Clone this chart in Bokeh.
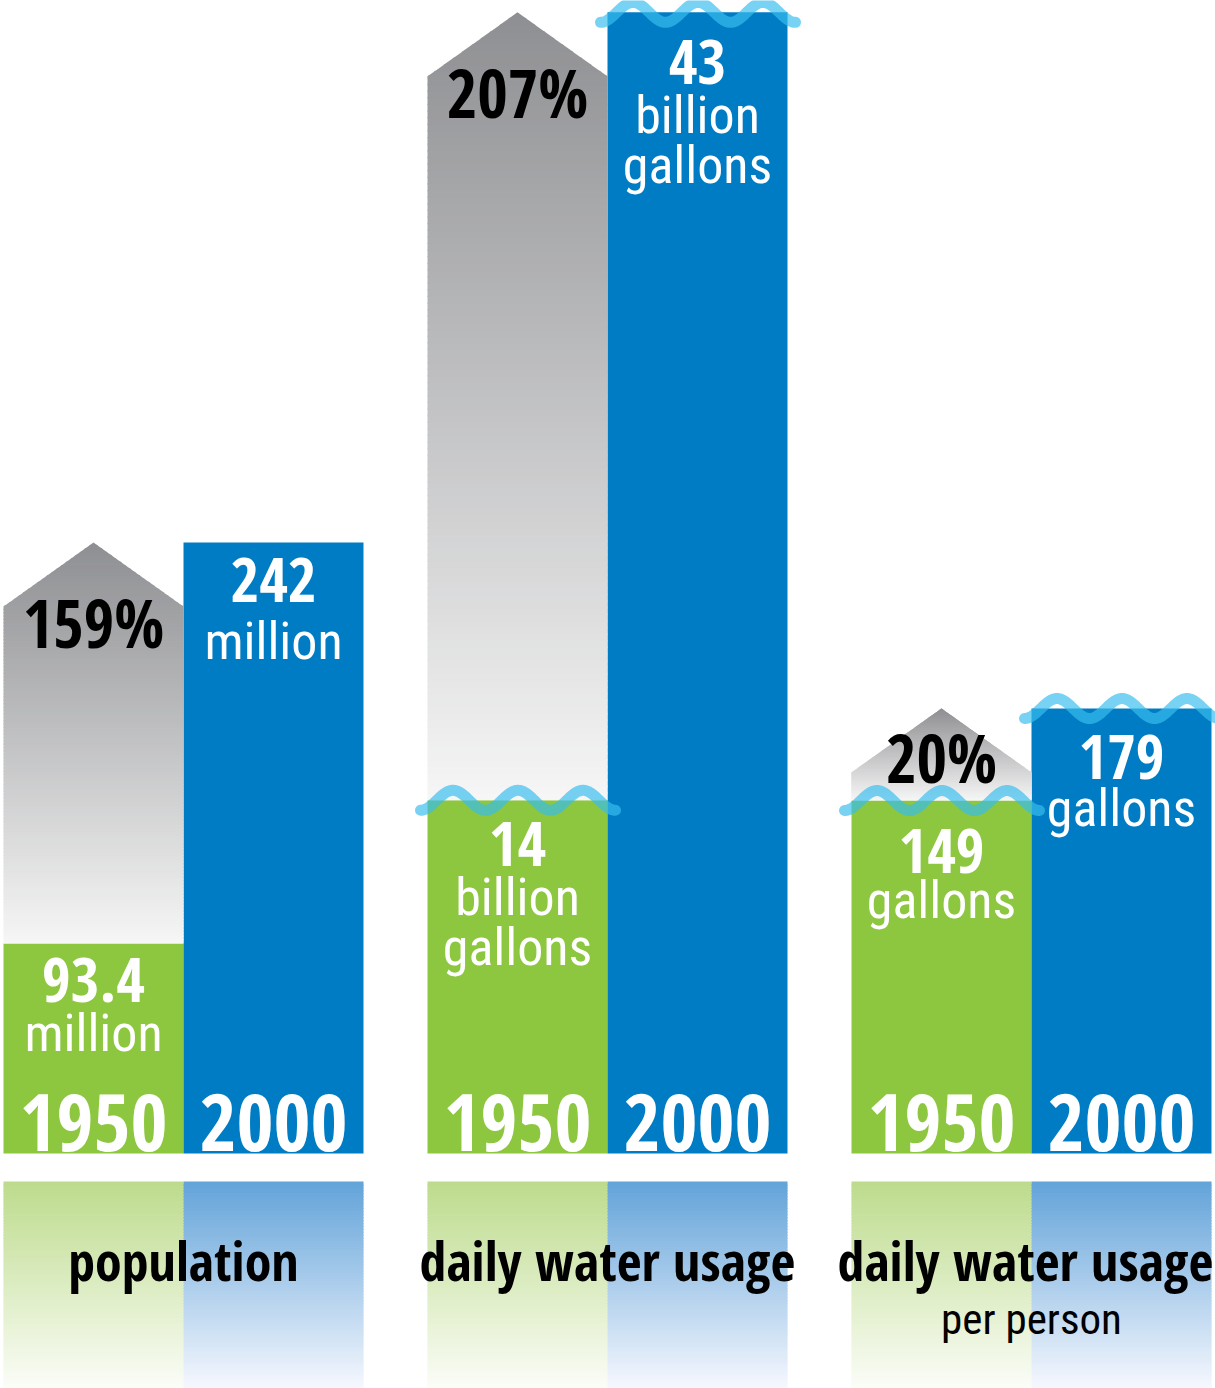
import numpy as np
from bokeh.plotting import figure
from bokeh.models import Range1d
from bokeh.core.properties import value
from bokeh.embed import file_html
from bokeh.resources import INLINE

# ---------------- data ----------------
groups = ["population", "daily water usage", "daily water usage"]
group_subtitles = ["", "", "per person"]
years = ["1950", "2000"]
values_1950 = [93.4, 14, 149]
values_2000 = [242, 43, 179]
labels_1950 = ["93.4", "14", "149"]
labels_2000 = ["242", "43", "179"]
units = [["million"], ["billion", "gallons"], ["gallons"]]
scale_floor = [15.6, 1.0, 33.9]
px_per_unit = [2.6985, 27.17, 3.0667]
has_wave = [False, True, True]

# ---------------- style / layout ----------------
W, H = 1215, 1388
BASE = 1153
BAR_W = 180
GROUP_X0 = 3
GROUP_PITCH = 424
GREEN = "#8dc63f"
BLUE = "#007cc4"
GREY_TOP = (0x8e, 0x8f, 0x92)
GREY_BOT = (0xf6, 0xf6, 0xf6)
HEAD_PX = 64
BOLD = "Open Sans Condensed"
REG = "Roboto Condensed"
FIX = 0.38          # baseline correction (fraction of font size)
num_off_1950 = [60, 67, 74]
num_off_2000 = [61, 73, 72]
gap_1950 = [50, 50, 46]
gap_2000 = [58, 50, 48]
pct_off = [105, 105, 74]
label_dx = [0, 0, -6]
PANEL_TOP = 1181
PCT_SIZE, NUM_SIZE, UNIT_SIZE, YEAR_SIZE, LAB_SIZE, SUB_SIZE = 66, 62, 52, 80, 54, 43

def hexc(rgb):
    return "#%02x%02x%02x" % tuple(int(round(c)) for c in rgb)

def lerp(a, b, t):
    return tuple(a[i] + (b[i] - a[i]) * t for i in range(3))

def txt(x, y, s, size, font, color, off=0, bold=False, rn="default"):
    kw = dict(x=[x], y=[y], text=[s], y_offset=off - FIX * size,
              text_font=value(font), text_font_size="%dpx" % size,
              text_font_style="bold" if bold else "normal", text_color=color,
              text_align="center", text_baseline="alphabetic")
    if rn != "default":
        kw["y_range_name"] = rn
    p.text(**kw)

p = figure(width=W, height=H, x_range=Range1d(0, W), y_range=Range1d(H, 0),
           output_backend="svg", toolbar_location=None, min_border=0,
           x_axis_location=None, y_axis_location=None)
p.grid.visible = False
p.outline_line_color = None
p.background_fill_color = "white"
p.border_fill_color = "white"

ranges = {}
for i in range(3):
    s = px_per_unit[i]
    ranges["g%d" % i] = Range1d(scale_floor[i] - (H - BASE) / s, scale_floor[i] + BASE / s)
p.extra_y_ranges = ranges

for i in range(3):
    rn = "g%d" % i
    s = px_per_unit[i]
    xg = GROUP_X0 + i * GROUP_PITCH
    xb = xg + BAR_W
    cg = xg + BAR_W / 2
    cb = xb + BAR_W / 2
    v1, v2, fl = values_1950[i], values_2000[i], scale_floor[i]

    # bars
    p.quad(left=[xg], right=[xg + BAR_W], bottom=[fl], top=[v1], y_range_name=rn,
           fill_color=GREEN, line_color=None)
    p.quad(left=[xb], right=[xb + BAR_W], bottom=[fl], top=[v2], y_range_name=rn,
           fill_color=BLUE, line_color=None)

    # grey growth arrow, gradient built from overlapping bands
    ys = v2 - HEAD_PX / s
    edges = sorted(set(list(np.linspace(v1, v2, 120)) + [ys]))
    ov = 1.2 / s
    def hw(y):
        if y <= ys:
            return BAR_W / 2
        return max(0.0, BAR_W / 2 * (v2 - y) / (v2 - ys))
    pxs, pys, cols = [], [], []
    for a, b in zip(edges[:-1], edges[1:]):
        bt = min(b + ov, v2)
        if a < ys < bt:
            xs_ = [cg - hw(a), cg + hw(a), cg + hw(ys), cg + hw(bt), cg - hw(bt), cg - hw(ys)]
            ys_ = [a, a, ys, bt, bt, ys]
        else:
            xs_ = [cg - hw(a), cg + hw(a), cg + hw(bt), cg - hw(bt)]
            ys_ = [a, a, bt, bt]
        pxs.append(xs_)
        pys.append(ys_)
        t = ((a + b) / 2 - v1) / (v2 - v1)
        cols.append(hexc(lerp(GREY_BOT, GREY_TOP, t)))
    p.patches(xs=pxs, ys=pys, fill_color=cols, line_color=None, y_range_name=rn)

    # waves
    if has_wave[i]:
        P, A = 65, 10
        for left, v in ((xg, v1), (xb, v2)):
            x0 = left - 7
            xx = np.linspace(x0, x0 + 3 * P, 240)
            yy = v - (A / s) * np.cos(2 * np.pi * (xx - x0) / P)
            p.line(xx, yy, line_color="#38bcee", line_alpha=0.68, line_width=11,
                   line_cap="round", y_range_name=rn)

    # percent change
    pct = "%d%%" % round((v2 - v1) / v1 * 100)
    txt(cg, v2, pct, PCT_SIZE, BOLD, "black", off=pct_off[i], bold=True, rn=rn)

    # value labels
    for c, v, lab, off, gap in ((cg, v1, labels_1950[i], num_off_1950[i], gap_1950[i]),
                                (cb, v2, labels_2000[i], num_off_2000[i], gap_2000[i])):
        txt(c, v, lab, NUM_SIZE, BOLD, "white", off=off, bold=True, rn=rn)
        for k, u in enumerate(units[i]):
            txt(c, v, u, UNIT_SIZE, REG, "white", off=off + gap * (k + 1), rn=rn)

    # years
    for c, yr in ((cg, years[0]), (cb, years[1])):
        txt(c, fl, yr, YEAR_SIZE, BOLD, "white", off=-1, bold=True, rn=rn)

    # bottom label panel
    nb = 70
    pe = np.linspace(PANEL_TOP, H, nb + 1)
    gcols, bcols = [], []
    for k in range(nb):
        t = (k + 0.5) / nb
        gcols.append(hexc(lerp((0xbd, 0xdb, 0x8c), (0xfb, 0xfd, 0xf8), t)))
        bcols.append(hexc(lerp((0x62, 0xa3, 0xd9), (0xf6, 0xf8, 0xfe), t)))
    bots = [min(e + 1.2, H) for e in pe[1:]]
    p.quad(left=[xg] * nb, right=[xg + BAR_W] * nb, top=list(pe[:-1]), bottom=bots,
           fill_color=gcols, line_color=None)
    p.quad(left=[xb] * nb, right=[xb + BAR_W] * nb, top=list(pe[:-1]), bottom=bots,
           fill_color=bcols, line_color=None)

    txt(xb + label_dx[i], PANEL_TOP, groups[i], LAB_SIZE, BOLD, "black", off=99, bold=True)
    if group_subtitles[i]:
        txt(xb, PANEL_TOP, group_subtitles[i], SUB_SIZE, REG, "black", off=154)

open("out.html", "w").write(file_html(p, INLINE))
